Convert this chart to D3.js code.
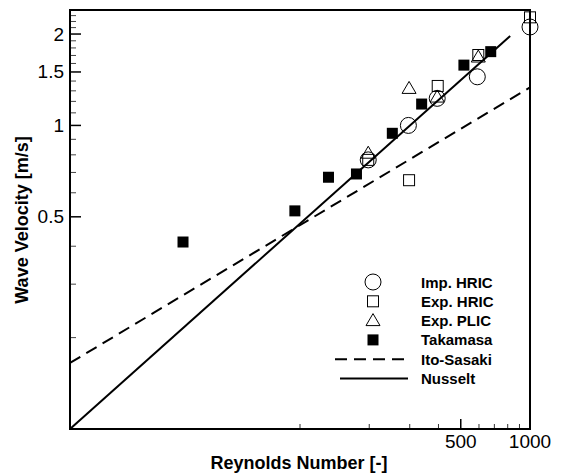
<!DOCTYPE html>
<html><head><meta charset="utf-8">
<script src="https://cdn.jsdelivr.net/npm/d3@7"></script>
<style>body{margin:0;background:#fff;} svg{display:block;font-family:"Liberation Sans",Arial,sans-serif;}</style>
</head><body><svg id="c" width="563" height="474"></svg>
<script>
// ---- data ----
const impHRIC  = [[198,0.77],[296,1.0],[395,1.228],[590,1.446],[1000,2.11]];
const expHRIC  = [[198,0.77],[298,0.66],[397,1.349],[596,1.706],[1000,2.27]];
const expPLIC  = [[198,0.81],[298,1.324],[395,1.24],[596,1.68]];
const takamasa = [[31,0.413],[95,0.523],[133,0.675],[176,0.692],[252,0.942],[338,1.176],[516,1.58],[675,1.75]];
const itoSasaki = [[10,0.165],[1000,1.335]];
const nusselt   = [[10,0.1],[820,1.97]];
const xMajorTicks = [500,1000];
const xMinorTicks = [100,200,300,400,600,700,800,900];
const yMajorTicks = [0.5,1,1.5,2];
const yMinorTicks = [0.2,0.3,0.4,0.6,0.7,0.8,0.9,1.1,1.2,1.3,1.4,1.6,1.7,1.8,1.9,2.1,2.2,2.3];
const legendItems = ["Imp. HRIC","Exp. HRIC","Exp. PLIC","Takamasa","Ito-Sasaki","Nusselt"];

const L=70,R=530,T=10,B=429;
const x=d3.scaleLog().domain([10,1000]).range([L,R]);
const y=d3.scaleLog().domain([0.1,2.4]).range([B,T]);
const svg=d3.select("#c");

// lines
const line=d3.line().x(d=>x(d[0])).y(d=>y(d[1]));
svg.append("path").attr("d",line(itoSasaki)).attr("fill","none").attr("stroke","#000").attr("stroke-width",2).attr("stroke-dasharray","12,7");
svg.append("path").attr("d",line(nusselt)).attr("fill","none").attr("stroke","#000").attr("stroke-width",2);

// ticks
const g=svg.append("g");
xMinorTicks.forEach(t=>g.append("line").attr("x1",x(t)).attr("x2",x(t)).attr("y1",B).attr("y2",B-5).attr("stroke","#333").attr("stroke-width",1));
xMajorTicks.forEach(t=>{g.append("line").attr("x1",x(t)).attr("x2",x(t)).attr("y1",B).attr("y2",B-10).attr("stroke","#000").attr("stroke-width",1.5);
  g.append("text").attr("x",x(t)).attr("y",B+19).attr("text-anchor","middle").attr("font-size",19).text(t);});
yMinorTicks.forEach(t=>g.append("line").attr("x1",L).attr("x2",L+6).attr("y1",y(t)).attr("y2",y(t)).attr("stroke","#444").attr("stroke-width",1));
yMajorTicks.forEach(t=>{g.append("line").attr("x1",L).attr("x2",L+11).attr("y1",y(t)).attr("y2",y(t)).attr("stroke","#000").attr("stroke-width",1.5);
  g.append("text").attr("x",L-6).attr("y",y(t)+6.5).attr("text-anchor","end").attr("font-size",19).text(t);});

// frame
svg.append("rect").attr("x",L).attr("y",T).attr("width",R-L).attr("height",B-T).attr("fill","none").attr("stroke","#000").attr("stroke-width",2);

// markers
function circle(gg,cx,cy){gg.append("circle").attr("cx",cx).attr("cy",cy).attr("r",8).attr("fill","none").attr("stroke","#000").attr("stroke-width",1);}
function square(gg,cx,cy){gg.append("rect").attr("x",cx-5.5).attr("y",cy-5.5).attr("width",11).attr("height",11).attr("fill","none").attr("stroke","#000").attr("stroke-width",1);}
function tri(gg,cx,cy){gg.append("path").attr("d",`M${cx},${cy-7}L${cx+7},${cy+5}L${cx-7},${cy+5}Z`).attr("fill","none").attr("stroke","#000").attr("stroke-width",1);}
function fsq(gg,cx,cy){gg.append("rect").attr("x",cx-5.5).attr("y",cy-5.5).attr("width",11).attr("height",11).attr("fill","#000");}
const m=svg.append("g");
takamasa.forEach(d=>fsq(m,x(d[0]),y(d[1])));
expHRIC.forEach(d=>square(m,x(d[0]),y(d[1])));
impHRIC.forEach(d=>circle(m,x(d[0]),y(d[1])));
expPLIC.forEach(d=>tri(m,x(d[0]),y(d[1])));

// legend
const lg=svg.append("g");
const lx=373, ly0=282, dy=19.3;
legendItems.forEach((name,i)=>{
  const cy=ly0+i*dy;
  if(i===0) circle(lg,lx,cy);
  if(i===1) square(lg,lx,cy);
  if(i===2) tri(lg,lx,cy);
  if(i===3) fsq(lg,lx,cy);
  if(i===4) lg.append("line").attr("x1",335).attr("x2",408).attr("y1",cy).attr("y2",cy).attr("stroke","#000").attr("stroke-width",2).attr("stroke-dasharray","12,7");
  if(i===5) lg.append("line").attr("x1",340).attr("x2",408).attr("y1",cy).attr("y2",cy).attr("stroke","#000").attr("stroke-width",2);
  lg.append("text").attr("x",421).attr("y",cy+5.5).attr("font-size",15).attr("font-weight","bold").text(name);
});

// axis titles
svg.append("text").attr("x",299).attr("y",469).attr("text-anchor","middle").attr("font-size",18).attr("font-weight","bold").text("Reynolds Number [-]");
svg.append("text").attr("transform",`translate(28,220) rotate(-90)`).attr("text-anchor","middle").attr("font-size",18).attr("font-weight","bold").text("Wave Velocity [m/s]");
</script></body></html>
